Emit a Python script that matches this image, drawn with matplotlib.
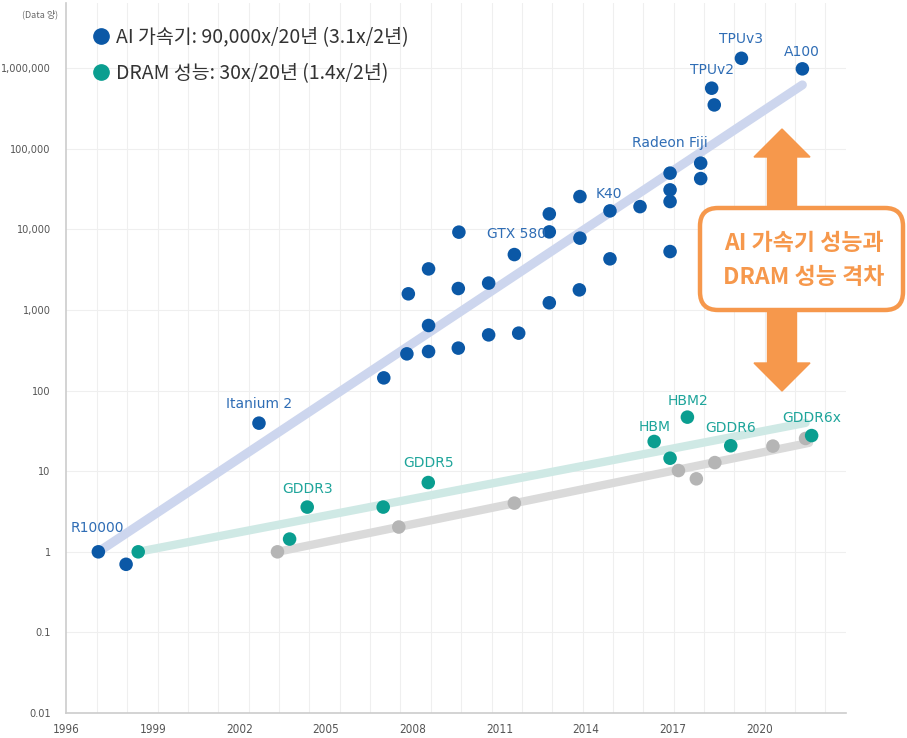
import numpy as np
import matplotlib
matplotlib.use('Agg')
import matplotlib.pyplot as plt
from matplotlib.lines import Line2D
from matplotlib.patches import Polygon, FancyBboxPatch
from matplotlib.transforms import Affine2D

plt.rcParams['font.family'] = ['Noto Sans CJK KR', 'DejaVu Sans']

# AI 가속기 (blue)
ai_year = [1997.12, 1998.08, 2002.68, 2007.0, 2007.85, 2007.8, 2008.55, 2008.55, 2008.55,
           2009.6, 2009.58, 2009.58, 2010.63, 2010.63, 2011.52, 2011.67, 2012.73, 2012.73,
           2012.73, 2013.79, 2013.79, 2013.77, 2014.83, 2014.83, 2015.87, 2016.91, 2016.91,
           2016.91, 2016.91, 2017.97, 2017.97, 2018.35, 2018.44, 2019.38, 2021.49]
ai_value = [1.0, 0.70, 39.5, 144, 1590, 286, 3240, 643, 306,
            9260, 1850, 337, 2160, 492, 4880, 517, 15600, 9330,
            1230, 25600, 7800, 1780, 17000, 4320, 19200, 50000, 31000,
            22200, 5320, 66500, 42800, 566000, 351000, 1330000, 984000]

# DRAM 성능 (teal)
dram_year = [1998.5, 2003.74, 2004.35, 2006.98, 2008.54, 2016.36, 2016.91, 2017.51, 2019.01, 2021.81]
dram_value = [1.0, 1.44, 3.59, 3.59, 7.24, 23.4, 14.5, 46.9, 20.7, 27.7]

# gray series
gray_year = [2003.32, 2007.52, 2011.52, 2017.2, 2017.82, 2018.46, 2020.47, 2021.6]
gray_value = [1.0, 2.03, 4.02, 10.2, 8.05, 12.8, 20.5, 25.5]

# trend lines (start, end)
ai_trend_year = [1997.12, 2021.49]
ai_trend_value = [1.0, 622000]
dram_trend_year = [1998.5, 2021.6]
dram_trend_value = [1.0, 39.8]
gray_trend_year = [2003.32, 2021.72]
gray_trend_value = [1.0, 22.5]

# point labels: text, year, value
ai_labels = [('R10000', 1997.08, 2.0), ('Itanium 2', 2002.68, 69), ('GTX 580', 2011.58, 8830),
             ('K40', 2014.8, 27800), ('Radeon Fiji', 2016.91, 119000), ('TPUv2', 2018.37, 961000),
             ('TPUv3', 2019.36, 2340000), ('A100', 2021.47, 1600000)]
dram_labels = [('GDDR3', 2004.35, 5.95), ('GDDR5', 2008.54, 12.6), ('HBM', 2016.36, 35.6),
               ('HBM2', 2017.54, 73.5), ('GDDR6', 2019.01, 34.6), ('GDDR6x', 2021.83, 45.5)]

x_ticks = [1996, 1999, 2002, 2005, 2008, 2011, 2014, 2017, 2020]
y_ticks = [0.01, 0.1, 1, 10, 100, 1000, 10000, 100000, 1000000]
y_tick_labels = ['0.01', '0.1', '1', '10', '100', '1,000', '10,000', '100,000', '1,000,000']

blue = '#0b58a6'
blue_txt = '#2f6db5'
teal = '#0a9e90'
teal_txt = '#1fa59b'
grey = '#b5b5b5'
orange = '#f6984c'

fig = plt.figure(figsize=(9.07, 7.38), dpi=100)
ax = fig.add_axes([66 / 907, 25 / 738, 780 / 907, 710 / 738])
ax.set_yscale('log')
ax.set_xlim(1996, 2023)
ax.set_ylim(0.01, 10 ** 6.81)

# grid
for xg in np.arange(1997.07, 2022.6, 1.0508):
    ax.axvline(xg, color='#efefef', lw=0.8, zorder=0)
for yg in y_ticks[1:]:
    ax.axhline(yg, color='#efefef', lw=0.8, zorder=0)

ax.plot(ai_trend_year, ai_trend_value, color='#cdd6ee', lw=6.5, solid_capstyle='round', zorder=2)
ax.plot(dram_trend_year, dram_trend_value, color='#cfe9e5', lw=6, solid_capstyle='round', zorder=2)
ax.plot(gray_trend_year, gray_trend_value, color='#dadada', lw=6, solid_capstyle='round', zorder=2)

ax.scatter(gray_year, gray_value, s=95, color=grey, edgecolors='none', zorder=3)
ax.scatter(dram_year, dram_value, s=95, color=teal, edgecolors='none', zorder=4)
ax.scatter(ai_year, ai_value, s=95, color=blue, edgecolors='none', zorder=4)

for t, xv, yv in ai_labels:
    ax.text(xv, yv, t, color=blue_txt, fontsize=10, family='DejaVu Sans',
            ha='center', va='center', zorder=5)
for t, xv, yv in dram_labels:
    ax.text(xv, yv, t, color=teal_txt, fontsize=10, family='DejaVu Sans',
            ha='center', va='center', zorder=5)

ax.set_xticks(x_ticks)
ax.set_xticklabels([str(v) for v in x_ticks], family='DejaVu Sans', fontstretch='condensed',
                   fontsize=8.5, color='#555555')
ax.set_yticks(y_ticks)
ax.set_yticklabels(y_tick_labels, family='DejaVu Sans', fontstretch='condensed',
                   fontsize=7.8, color='#555555')
ax.minorticks_off()
ax.tick_params(length=0)
ax.tick_params(axis='y', pad=11)
ax.tick_params(axis='x', pad=7)
for s in ['top', 'right']:
    ax.spines[s].set_visible(False)
for s in ['left', 'bottom']:
    ax.spines[s].set_color('#cccccc')
    ax.spines[s].set_linewidth(1.2)

fig.text(40 / 907, 1 - 14 / 738, '(Data 양)', fontsize=6.5, color='#666666', ha='center', va='center')

handles = [Line2D([], [], marker='o', ls='none', color=blue, markersize=11),
           Line2D([], [], marker='o', ls='none', color=teal, markersize=11)]
ax.legend(handles, ['AI 가속기: 90,000x/20년 (3.1x/2년)', 'DRAM 성능: 30x/20년 (1.4x/2년)'],
          loc='upper left', bbox_to_anchor=(91 / 907, 1 - 27 / 738), bbox_transform=fig.transFigure,
          frameon=False, fontsize=14, handletextpad=0.3, labelspacing=0.78,
          borderpad=0, borderaxespad=0, handlelength=1.0, labelcolor='#333333')

# gap annotation in pixel coordinates
px = Affine2D().scale(1, -1).translate(0, 738)
cx = 782
arrow_pts = [(cx, 129), (cx + 28, 157), (cx + 14.5, 157), (cx + 14.5, 363), (cx + 28, 363),
             (cx, 391), (cx - 28, 363), (cx - 14.5, 363), (cx - 14.5, 157), (cx - 28, 157)]
fig.add_artist(Polygon(arrow_pts, closed=True, color=orange, transform=px, zorder=6))
box = FancyBboxPatch((700, 208), 203, 102, boxstyle='round,pad=0,rounding_size=18',
                     facecolor='white', edgecolor=orange, lw=3.2, transform=px, zorder=7)
fig.add_artist(box)
fig.text(804, 243, 'AI 가속기 성능과', transform=px, fontsize=16.5, fontweight='bold',
         color=orange, ha='center', va='center', zorder=8)
fig.text(804, 277, 'DRAM 성능 격차', transform=px, fontsize=16.5, fontweight='bold',
         color=orange, ha='center', va='center', zorder=8)

fig.savefig('out.png', dpi=100)
